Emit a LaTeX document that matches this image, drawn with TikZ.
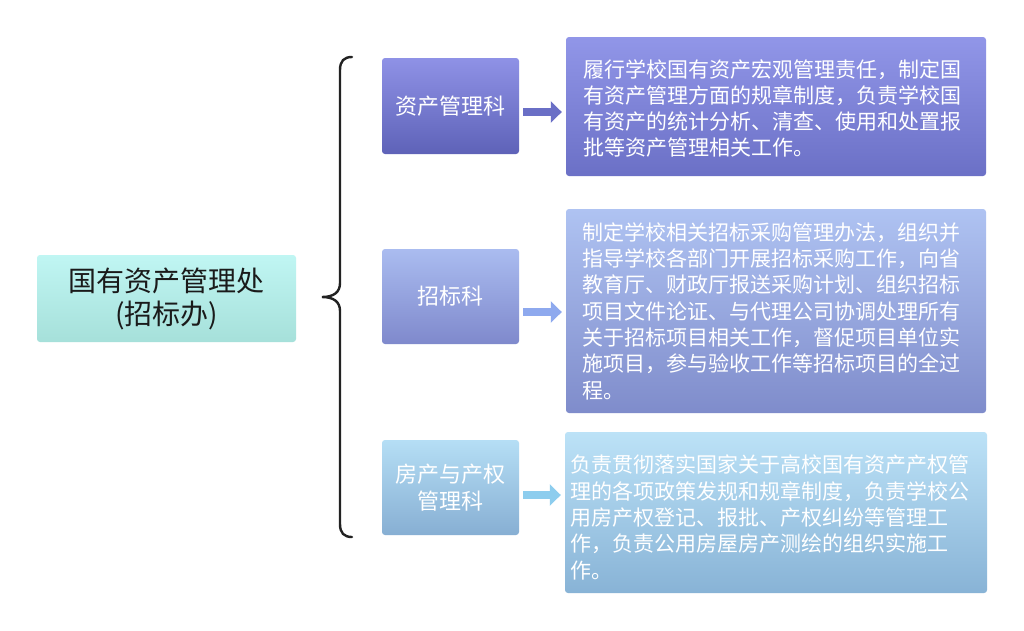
\documentclass[tikz,border=0pt]{standalone}
\usepackage{fontspec}
\newfontfamily\cjk{Noto Sans CJK SC}
\usetikzlibrary{arrows.meta,calc}
\definecolor{lTop}{HTML}{C0F6F3}
\definecolor{lBot}{HTML}{A6E0DA}
\definecolor{sATop}{HTML}{8F92E6}
\definecolor{sABot}{HTML}{5E62B8}
\definecolor{bATop}{HTML}{9196E8}
\definecolor{bABot}{HTML}{6B70C6}
\definecolor{sBTop}{HTML}{AABCF0}
\definecolor{sBBot}{HTML}{7F89CC}
\definecolor{bBTop}{HTML}{AFC3F2}
\definecolor{bBBot}{HTML}{7F8CCB}
\definecolor{sCTop}{HTML}{B5DEF5}
\definecolor{sCBot}{HTML}{87AFD3}
\definecolor{bCTop}{HTML}{BCE2F7}
\definecolor{bCBot}{HTML}{88B3D6}
\definecolor{arA}{HTML}{6A6FC6}
\definecolor{arB}{HTML}{8EA9EE}
\definecolor{arC}{HTML}{8DCDEE}
\definecolor{ink}{HTML}{1A1A1A}
\definecolor{braceInk}{HTML}{222222}
\begin{document}
\begin{tikzpicture}[x=1pt,y=-1pt,
  panel/.style={rectangle, rounded corners=3pt, inner sep=0pt, draw=none},
  smalltxt/.style={text=white, align=center, font=\cjk\fontsize{22}{27}\selectfont},
  bigtxt/.style={text=white, align=left, inner sep=0pt, anchor=west, font=\cjk\fontsize{21}{26.3}\selectfont},
  blockarrow/.style={line width=8pt, -{Triangle[length=11pt,width=21pt]}, shorten <=4pt, shorten >=4pt}
]
\fill[white] (0,0) rectangle (1024,630);
\useasboundingbox (0,0) rectangle (1024,630);

% left box
\node[panel, top color=lTop, bottom color=lBot, minimum width=259pt, minimum height=87pt,
      text=ink, align=center, font=\cjk\fontsize{28}{33}\selectfont] (L) at (166.5,298.5)
  {国有资产管理处\\(招标办)};

% small boxes
\node[panel, top color=sATop, bottom color=sABot, minimum width=137pt, minimum height=96pt, smalltxt] (s1) at (450.5,106) {资产管理科};
\node[panel, top color=sBTop, bottom color=sBBot, minimum width=137pt, minimum height=95pt, smalltxt] (s2) at (450.5,296.5) {招标科};
\node[panel, top color=sCTop, bottom color=sCBot, minimum width=137pt, minimum height=95pt, smalltxt] (s3) at (450.5,487.5) {房产与产权\\管理科};

% big boxes
\node[panel, top color=bATop, bottom color=bABot, minimum width=420pt, minimum height=139pt] (b1) at (776,106.5) {};
\node[panel, top color=bBTop, bottom color=bBBot, minimum width=420pt, minimum height=204pt] (b2) at (776,311) {};
\node[panel, top color=bCTop, bottom color=bCBot, minimum width=422pt, minimum height=161pt] (b3) at (776,512.5) {};

\node[bigtxt] (t1) at ($(b1.west)+(17,2)$) {履行学校国有资产宏观管理责任，制定国\\有资产管理方面的规章制度，负责学校国\\有资产的统计分析、清查、使用和处置报\\批等资产管理相关工作。};
\node[bigtxt] (t2) at ($(b2.west)+(16,0)$) {制定学校相关招标采购管理办法，组织并\\指导学校各部门开展招标采购工作，向省\\教育厅、财政厅报送采购计划、组织招标\\项目文件论证、与代理公司协调处理所有\\关于招标项目相关工作，督促项目单位实\\施项目，参与验收工作等招标项目的全过\\程。};
\node[bigtxt] (t3) at ($(b3.west)+(5,5)$) {负责贯彻落实国家关于高校国有资产产权管\\理的各项政策发规和规章制度，负责学校公\\用房产权登记、报批、产权纠纷等管理工\\作，负责公用房屋房产测绘的组织实施工\\作。};

% arrows
\coordinate (y1) at (0,112);
\coordinate (y2) at (0,312);
\coordinate (y3) at (0,495);
\draw[blockarrow, arA] (s1.east |- y1) -- (b1.west |- y1);
\draw[blockarrow, arB] (s2.east |- y2) -- (b2.west |- y2);
\draw[blockarrow, arC] (s3.east |- y3) -- (b3.west |- y3);

% brace
\coordinate (btip) at (322,297);
\draw[braceInk, line width=2.4pt, line cap=round]
  (352,57) .. controls (344,57) and (340,61) .. (340,70)
  -- (340,283) .. controls (340,292) and (334,297) .. (btip)
  .. controls (334,297) and (340,302) .. (340,311)
  -- (340,524) .. controls (340,533) and (344,537) .. (352,537);
\end{tikzpicture}
\end{document}
